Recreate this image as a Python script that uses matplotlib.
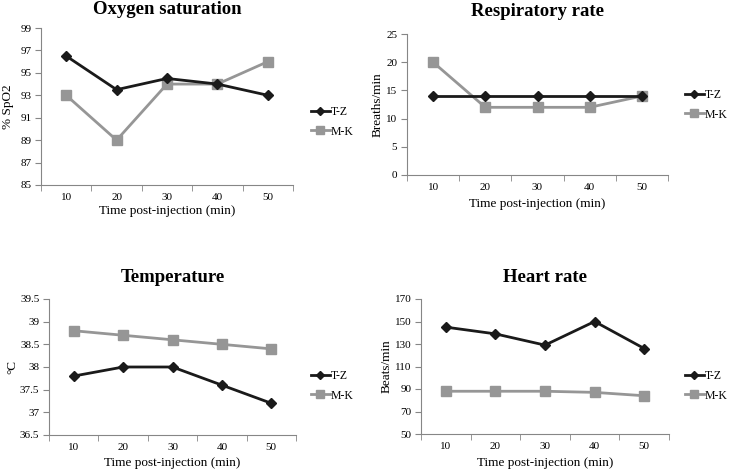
import numpy as np
import matplotlib
matplotlib.use("Agg")
import matplotlib.pyplot as plt

plt.rcParams["font.family"] = ["Liberation Serif", "DejaVu Serif"]

times = ["10", "20", "30", "40", "50"]

spo2_tz = [96.5, 93.5, 94.5, 94.0, 93.0]
spo2_mk = [93.0, 89.0, 94.0, 94.0, 96.0]

resp_tz = [14, 14, 14, 14, 14]
resp_mk = [20, 12, 12, 12, 14]

temp_tz = [37.8, 38.0, 38.0, 37.6, 37.2]
temp_mk = [38.8, 38.7, 38.6, 38.5, 38.4]

hr_tz = [145, 139, 129, 150, 126]
hr_mk = [88, 88, 88, 87, 84]

W, H = 732, 470
fig = plt.figure(figsize=(W / 100, H / 100), dpi=100)

tz_col = "#1a1a1a"
mk_col = "#969696"
spine_col = "#868686"

panels = [
    # title, ylabel, tz, mk, yticks, ylim, axes box px (left, top, right, bottom),
    # title y, legend (x, y), xlabel y, ylabel x
    ("Oxygen saturation", "% SpO2", spo2_tz, spo2_mk, np.arange(85, 100, 2), (85, 99),
     (41, 28, 293, 185), 9, (311, 122), 211, 8),
    ("Respiratory rate", "Breaths/min", resp_tz, resp_mk, np.arange(0, 26, 5), (0, 25),
     (407, 34, 668, 175), 11, (685, 105), 204, 378),
    ("Temperature", "°C", temp_tz, temp_mk, np.arange(36.5, 39.6, 0.5), (36.5, 39.5),
     (49, 299, 296, 435), 277, (311, 386), 463, 12),
    ("Heart rate", "Beats/min", hr_tz, hr_mk, np.arange(50, 171, 20), (50, 170),
     (421, 299, 669, 434), 277, (685, 386), 463, 387),
]

x = np.arange(1, len(times) + 1)
for title, ylabel, tz, mk, yticks, ylim, box, ty, leg, xly, ylx in panels:
    l, t, r, b = box
    ax = fig.add_axes([l / W, 1 - b / H, (r - l) / W, (b - t) / H])
    ax.plot(x, tz, color=tz_col, lw=2, marker="D", ms=5, label="T-Z", zorder=3)
    ax.plot(x, mk, color=mk_col, lw=2, marker="s", ms=7, label="M-K", zorder=2)
    ax.set_xlim(0.5, len(times) + 0.5)
    ax.set_ylim(*ylim)
    ax.set_xticks(x)
    ax.set_xticklabels(times)
    ax.set_xticks(np.arange(0.5, len(times) + 1, 1), minor=True)
    ax.tick_params(axis="x", which="major", length=0, pad=6, labelsize=8)
    ax.tick_params(axis="x", which="minor", length=4, color=spine_col)
    ax.set_yticks(yticks)
    ax.set_yticklabels([("%g" % v) for v in yticks])
    ax.tick_params(axis="y", length=4, color=spine_col, labelsize=8, pad=3)
    for s in ["top", "right"]:
        ax.spines[s].set_visible(False)
    for s in ["left", "bottom"]:
        ax.spines[s].set_color(spine_col)
        ax.spines[s].set_linewidth(0.8)
    fig.text(ylx / W, 1 - (t + b) / 2 / H, ylabel, rotation=90, ha="center",
             va="center", fontsize=9.5)
    fig.text((l + r) / 2 / W, 1 - ty / H, title, ha="center", va="center",
             fontsize=13.5, fontweight="bold")
    fig.text((l + r) / 2 / W, 1 - xly / H, "Time post-injection (min)", ha="center",
             va="center", fontsize=9.5)
    ax.legend(loc="center left", bbox_to_anchor=(leg[0] / W, 1 - leg[1] / H),
              bbox_transform=fig.transFigure, frameon=False, fontsize=8.5,
              borderaxespad=0, borderpad=0,
              handlelength=1.6, handletextpad=0.1, labelspacing=0.6, markerscale=0.8)

fig.savefig("out.png", dpi=100)
